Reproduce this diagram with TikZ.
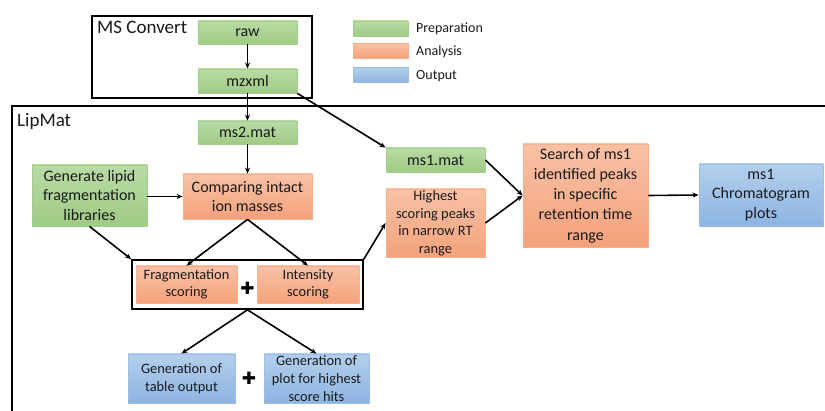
\documentclass[tikz,border=0pt]{standalone}
\usepackage{fontspec}
\setmainfont{Carlito}
\newfontfamily\djv{DejaVu Sans}
\usetikzlibrary{arrows.meta}
\definecolor{gtop}{HTML}{B9DBA5}
\definecolor{gbot}{HTML}{9FCB84}
\definecolor{gdraw}{HTML}{A3CD8C}
\definecolor{otop}{HTML}{F8C1A6}
\definecolor{obot}{HTML}{F4A27B}
\definecolor{odraw}{HTML}{F5B08C}
\definecolor{btop}{HTML}{B3CFEC}
\definecolor{bbot}{HTML}{8DB4E2}
\definecolor{bdraw}{HTML}{9CBDE4}
\definecolor{txt}{HTML}{1A1A1A}
\tikzset{
  box/.style={draw, line width=0.8pt, align=center, inner sep=1pt, text=txt},
  prep/.style={box, top color=gtop, bottom color=gbot, draw=gdraw},
  anal/.style={box, top color=otop, bottom color=obot, draw=odraw},
  outp/.style={box, top color=btop, bottom color=bbot, draw=bdraw},
  big/.style={font=\fontsize{16}{19.5}\selectfont},
  small/.style={font=\fontsize{14.4}{17.5}\selectfont},
  frame/.style={draw, line width=1.7pt},
  arr/.style={-{Stealth[length=6pt,width=5pt]}, line width=1.6pt},
  plus/.style={font=\djv\fontsize{17}{17}\selectfont, inner sep=0pt},
}
\begin{document}
\begin{tikzpicture}[x=1pt,y=-1pt]
\useasboundingbox (0,0) rectangle (825,411);
\clip (0,0) rectangle (825,411);
\fill[white] (0,0) rectangle (825,411);

% frames
\node[frame, minimum width=220pt, minimum height=82pt, inner sep=0pt] (msc) at (202,57) {};
\node[anchor=west, font=\fontsize{19}{22}\selectfont, text=txt, inner sep=0pt] (msclab) at (97,27) {MS Convert};
\node[frame, minimum width=828pt, minimum height=330pt, inner sep=0pt] (lip) at (426,271) {};
\node[anchor=west, font=\fontsize{19}{22}\selectfont, text=txt, inner sep=0pt] (liplab) at (17,121) {LipMat};

% legend
\node[prep, minimum width=55pt, minimum height=15pt] (lg1) at (380.5,28.5) {};
\node[anal, minimum width=55pt, minimum height=15pt] (lg2) at (380.5,51) {};
\node[outp, minimum width=55pt, minimum height=15pt] (lg3) at (380.5,75) {};
\node[anchor=west, font=\fontsize{14}{17}\selectfont, text=txt, inner sep=0pt] (lt1) at (416,29) {Preparation};
\node[anchor=west, font=\fontsize{14}{17}\selectfont, text=txt, inner sep=0pt] (lt2) at (416,52) {Analysis};
\node[anchor=west, font=\fontsize{14}{17}\selectfont, text=txt, inner sep=0pt] (lt3) at (416,76) {Output};

% nodes
\node[prep, big, minimum width=99pt, minimum height=23pt] (raw) at (247.5,32.5) {raw};
\node[prep, big, minimum width=99pt, minimum height=24pt] (mzxml) at (247.5,81) {mzxml};
\node[prep, big, minimum width=99pt, minimum height=23pt] (ms2) at (247.5,132.5) {ms2.mat};
\node[prep, big, minimum width=115pt, minimum height=61pt] (gen) at (89.5,195.5) {Generate lipid\\fragmentation\\libraries};
\node[anal, big, minimum width=129pt, minimum height=45pt] (comp) at (247.5,196.5) {Comparing intact\\ion masses};
\node[prep, big, minimum width=99pt, minimum height=24pt] (ms1) at (435.5,160) {ms1.mat};
\node[anal, small, minimum width=99pt, minimum height=68pt] (high) at (435.5,223) {Highest\\scoring peaks\\in narrow RT\\range};
\node[anal, font=\fontsize{16}{20.2}\selectfont, minimum width=125pt, minimum height=103pt] (search) at (585.5,195.5) {Search of ms1\\identified peaks\\in specific\\retention time\\range};
\node[outp, big, minimum width=124pt, minimum height=62pt] (chrom) at (761,195) {ms1\\Chromatogram\\plots};

\node[frame, minimum width=231pt, minimum height=49pt, inner sep=0pt, fill=white] (grp) at (247.5,284.5) {};
\node[anal, small, minimum width=101pt, minimum height=37pt] (frag) at (186.5,284.5) {Fragmentation\\scoring};
\node[anal, small, minimum width=102pt, minimum height=37pt] (inten) at (308,284.5) {Intensity\\scoring};
\node[plus] (p1) at (247.5,288) {✚};

\node[outp, small, minimum width=107pt, minimum height=49pt] (tab) at (181.5,378.5) {Generation of\\table output};
\node[outp, font=\fontsize{14.4}{18}\selectfont, minimum width=105pt, minimum height=49pt] (plot) at (316.5,378.5) {Generation of\\plot for highest\\score hits};
\node[plus] (p2) at (249,378) {✚};

% arrows
\draw[arr] (raw) -- (mzxml);
\draw[arr] (mzxml) -- (ms2);
\draw[arr] (mzxml.south east) -- (ms1.north west);
\draw[arr] (ms2) -- (comp);
\draw[arr] (gen.east |- comp.west) -- (comp.west);
\draw[arr] (gen.south) -- (grp.north west);
\draw[arr] (comp.south) -- (frag.north);
\draw[arr] (comp.south) -- (inten.north);
\draw[arr] (grp.north east) -- (high.west);
\draw[arr] (ms1.east) -- (search.west);
\draw[arr] (high.east) -- (search.west);
\draw[arr] (search.east) -- (chrom.west);
\draw[arr] (grp.south) -- (tab.north);
\draw[arr] (grp.south) -- (plot.north);
\end{tikzpicture}
\end{document}
